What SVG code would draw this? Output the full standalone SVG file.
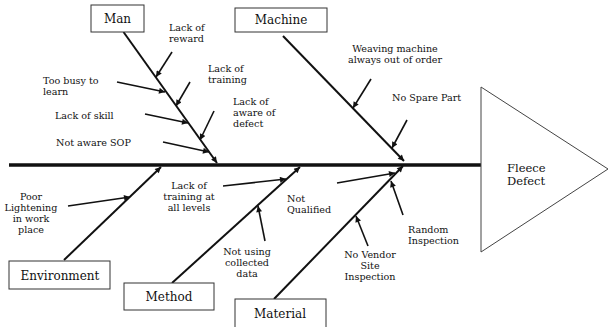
<svg xmlns="http://www.w3.org/2000/svg" width="614" height="327" viewBox="0 0 614 327">
<style>
text{font-family:'DejaVu Serif',serif;fill:#111;}
.lbl{font-size:9.6px;}
.box{fill:#fff;stroke:#333;stroke-width:1;}
.bt{font-size:12px;text-anchor:middle;}
.bone{stroke:#111;stroke-width:2;fill:none;marker-end:url(#ah);}
.cause{stroke:#111;stroke-width:1.6;fill:none;marker-end:url(#ah);}
.c{text-anchor:middle;}
</style>
<defs>
<marker id="ah" viewBox="0 0 10 10" refX="10" refY="5" markerWidth="8" markerHeight="6" markerUnits="userSpaceOnUse" orient="auto">
<path d="M0,0 L10,5 L0,10 z" fill="#111"/>
</marker>
</defs>
<g id="connectors">
<line x1="9" y1="165" x2="481" y2="165" stroke="#111" stroke-width="3.5"/>
<line class="bone" x1="123.5" y1="32" x2="217" y2="163"/>
<line class="bone" x1="283" y1="36" x2="404" y2="161"/>
<line class="bone" x1="64" y1="260" x2="161" y2="167"/>
<line class="bone" x1="172" y1="283" x2="300" y2="167"/>
<line class="bone" x1="274" y1="299" x2="403" y2="166"/>
<line class="cause" x1="172" y1="52" x2="156" y2="77"/>
<line class="cause" x1="190" y1="82" x2="176" y2="106"/>
<line class="cause" x1="214" y1="111" x2="200" y2="140"/>
<line class="cause" x1="117" y1="82" x2="165" y2="92"/>
<line class="cause" x1="145" y1="114" x2="188" y2="123"/>
<line class="cause" x1="163" y1="142" x2="209" y2="152"/>
<line class="cause" x1="371" y1="79" x2="353" y2="108"/>
<line class="cause" x1="407" y1="120" x2="392" y2="148"/>
<line class="cause" x1="68" y1="206" x2="130" y2="197"/>
<line class="cause" x1="223" y1="186" x2="286" y2="179"/>
<line class="cause" x1="265" y1="241" x2="258" y2="206"/>
<line class="cause" x1="337" y1="183" x2="395" y2="173"/>
<line class="cause" x1="403" y1="215" x2="391" y2="181"/>
<line class="cause" x1="368" y1="246" x2="356" y2="216"/>
</g>
<g id="effect">
<polygon points="481,87 608,169 481,252" fill="#fff" stroke="#444" stroke-width="1"/>
<text x="507" y="172" style="font-size:11.5px">Fleece</text>
<text x="507" y="185" style="font-size:11.5px">Defect</text>
</g>
<g id="man">
<rect class="box" x="91" y="5" width="53" height="27"/>
<text class="bt" x="117.5" y="23">Man</text>
</g>
<g id="machine">
<rect class="box" x="235" y="8" width="92" height="24"/>
<text class="bt" x="281" y="24">Machine</text>
</g>
<g id="environment">
<rect class="box" x="9" y="261" width="101" height="28"/>
<text class="bt" x="60" y="280">Environment</text>
</g>
<g id="method">
<rect class="box" x="124" y="283" width="90" height="27"/>
<text class="bt" x="169" y="301">Method</text>
</g>
<g id="material">
<rect class="box" x="235" y="299" width="91" height="30"/>
<text class="bt" x="280" y="318">Material</text>
</g>
<g id="causes" class="lbl">
<text x="169" y="31">Lack of</text>
<text x="169" y="41.5">reward</text>
<text x="208" y="72">Lack of</text>
<text x="208" y="82.5">training</text>
<text x="233" y="105">Lack of</text>
<text x="233" y="116">aware of</text>
<text x="233" y="127">defect</text>
<text x="43" y="84">Too busy to</text>
<text x="43" y="94.5">learn</text>
<text x="55" y="119">Lack of skill</text>
<text x="56" y="146">Not aware SOP</text>
<text class="c" x="395" y="52">Weaving machine</text>
<text class="c" x="395" y="62.5">always out of order</text>
<text x="392" y="101">No Spare Part</text>
<text class="c" x="31" y="200">Poor</text>
<text class="c" x="31" y="211">Lightening</text>
<text class="c" x="31" y="222">in work</text>
<text class="c" x="31" y="233">place</text>
<text class="c" x="189" y="189">Lack of</text>
<text class="c" x="189" y="200">training at</text>
<text class="c" x="189" y="211">all levels</text>
<text class="c" x="247" y="255">Not using</text>
<text class="c" x="247" y="266">collected</text>
<text class="c" x="247" y="277">data</text>
<text x="287" y="202">Not</text>
<text x="287" y="213">Qualified</text>
<text x="408" y="233">Random</text>
<text x="408" y="244">Inspection</text>
<text class="c" x="370" y="258">No Vendor</text>
<text class="c" x="370" y="269">Site</text>
<text class="c" x="370" y="280">Inspection</text>
</g>
</svg>
